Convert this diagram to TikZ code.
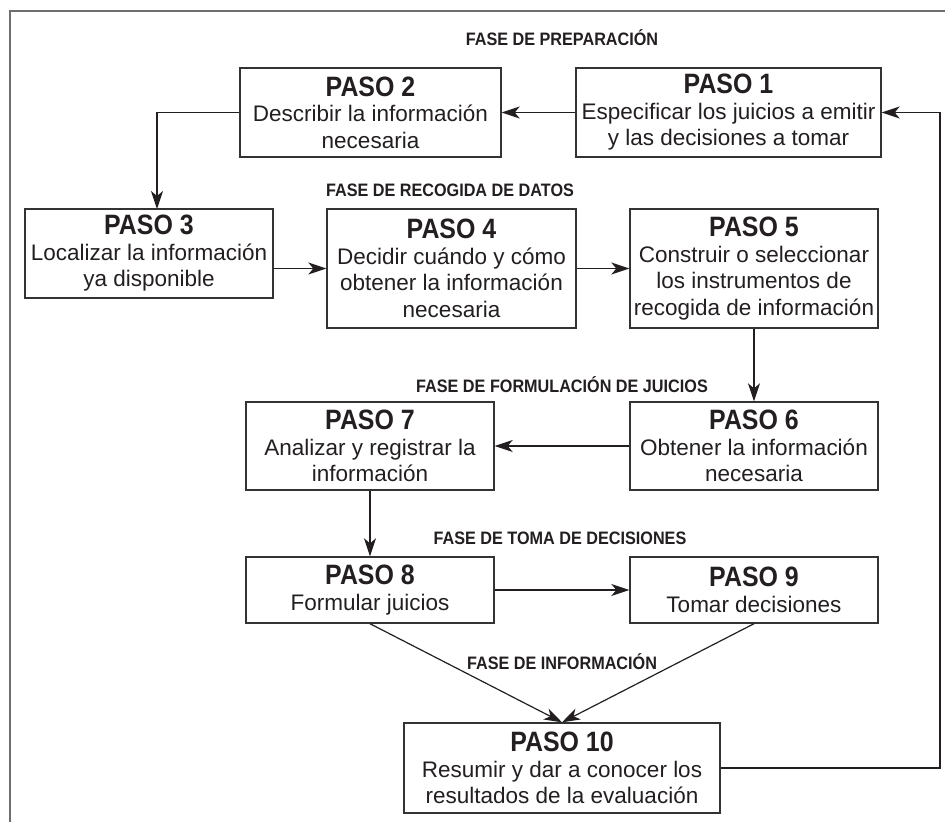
\documentclass[tikz,border=0pt]{standalone}
\usepackage{fontspec}
\setmainfont{Liberation Sans}
\newfontfamily\titlefam{Liberation Sans}[FakeStretch=0.89]
\newfontfamily\phasefam{Liberation Sans}[FakeStretch=0.9]
\usetikzlibrary{arrows.meta}
\definecolor{boxline}{HTML}{333333}
\definecolor{frameline}{HTML}{6E6E6E}
\definecolor{ink}{HTML}{231F20}
\newcommand{\pasotitle}[1]{{\titlefam\fontsize{28}{30}\selectfont\bfseries #1}}
\tikzset{
  x=1pt, y=-1pt,
  stepbox/.style={draw=boxline, line width=1.4pt, fill=white, inner sep=0pt,
    align=center, text=ink, font=\fontsize{22.5}{26.5}\selectfont},
  phase/.style={text=ink, font=\phasefam\fontsize{18}{20}\selectfont\bfseries, inner sep=1pt},
  arr/.style={draw=ink, line width=1.2pt, -{Stealth[length=18pt,width=12pt,inset=5pt]}},
  plain/.style={draw=ink, line width=1.2pt}
}
\begin{document}
\begin{tikzpicture}
\useasboundingbox (0,0) rectangle (945,822);
\fill[white] (0,0) rectangle (945,822);
% frame (top and left edges visible)
\draw[frameline, line width=2.2pt] (945,11) -- (10,11) -- (10,822);

% boxes
\node[stepbox, minimum width=305pt, minimum height=89pt] (P1) at (728.5,112.5)
  {\pasotitle{PASO 1}\\[-1pt] Especificar los juicios a emitir\\ y las decisiones a tomar};
\node[stepbox, minimum width=261pt, minimum height=89pt] (P2) at (370.5,112.5)
  {\pasotitle{PASO 2}\\[-1pt] Describir la información\\ necesaria};
\node[stepbox, minimum width=248pt, minimum height=89pt] (P3) at (149,253.5)
  {\pasotitle{PASO 3}\\[-1pt] Localizar la información\\ ya disponible};
\node[stepbox, minimum width=249pt, minimum height=119pt] (P4) at (451.5,268.5)
  {\pasotitle{PASO 4}\\[-1pt] Decidir cuándo y cómo\\ obtener la información\\ necesaria};
\node[stepbox, minimum width=248pt, minimum height=119pt] (P5) at (754,268.5)
  {\pasotitle{PASO 5}\\[-1pt] Construir o seleccionar\\ los instrumentos de\\ recogida de información};
\node[stepbox, minimum width=248pt, minimum height=88pt] (P6) at (754,446)
  {\pasotitle{PASO 6}\\[-1pt] Obtener la información\\ necesaria};
\node[stepbox, minimum width=248pt, minimum height=88pt] (P7) at (370,446)
  {\pasotitle{PASO 7}\\[-1pt] Analizar y registrar la\\ información};
\node[stepbox, minimum width=248pt, minimum height=66pt] (P8) at (370,590)
  {\pasotitle{PASO 8}\\[-1pt] Formular juicios};
\node[stepbox, minimum width=248pt, minimum height=66pt] (P9) at (754,590)
  {\pasotitle{PASO 9}\\[-1pt] Tomar decisiones};
\node[stepbox, minimum width=316pt, minimum height=90pt] (P10) at (562,768)
  {\pasotitle{PASO 10}\\[-1pt] Resumir y dar a conocer los\\ resultados de la evaluación};

% phase labels
\node[phase] (F1) at (562,38) {FASE DE PREPARACIÓN};
\node[phase] (F2) at (450,190) {FASE DE RECOGIDA DE DATOS};
\node[phase] (F3) at (562,385) {FASE DE FORMULACIÓN DE JUICIOS};
\node[phase] (F4) at (560,538) {FASE DE TOMA DE DECISIONES};
\node[phase] (F5) at (562,662) {FASE DE INFORMACIÓN};

% helper coordinates
\coordinate (c23) at (157,209);
\coordinate (fbx) at (940,0);

% connectors
\draw[arr] (P1.west) -- (P2.east);
\draw[arr] (P2.west) -| (c23);
\draw[arr] (P4.west -| P3.east) -- (P4.west);
\draw[arr] (P4.east) -- (P5.west);
\draw[arr] (P5.south) -- (P6.north);
\draw[arr] (P6.west) -- (P7.east);
\draw[arr] (P7.south) -- (P8.north);
\draw[arr] (P8.east) -- (P9.west);
\draw[arr] (P8.south) -- (P10.north);
\draw[arr] (P9.south) -- (P10.north);
\draw[arr] (P10.east) -- (P10.east -| fbx) |- (P1.east);
\end{tikzpicture}
\end{document}
